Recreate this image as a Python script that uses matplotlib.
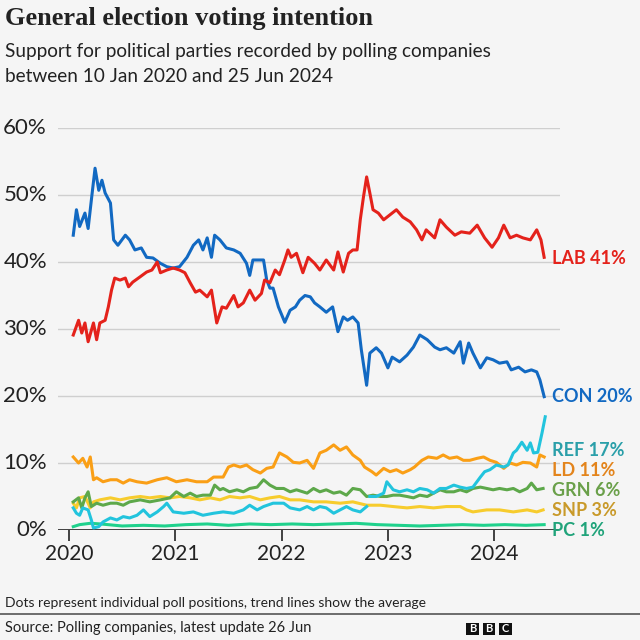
import matplotlib
matplotlib.use("Agg")
import matplotlib.pyplot as plt
from matplotlib.patches import Rectangle
import numpy as np

# ---------------- data (decimal years, % support) ----------------
con_t = [2020.04, 2020.07, 2020.10, 2020.15, 2020.18, 2020.21, 2020.245, 2020.28, 2020.31, 2020.34,
         2020.39, 2020.42, 2020.46, 2020.53, 2020.57, 2020.62, 2020.68, 2020.73, 2020.79, 2020.86,
         2020.92, 2020.98, 2021.04, 2021.11, 2021.17, 2021.22, 2021.26, 2021.30, 2021.34, 2021.37,
         2021.42, 2021.48, 2021.55, 2021.61, 2021.67, 2021.70, 2021.73, 2021.78, 2021.83, 2021.86,
         2021.89, 2021.92, 2021.97, 2022.03, 2022.08, 2022.13, 2022.17, 2022.22, 2022.27, 2022.31,
         2022.36, 2022.42, 2022.48, 2022.53, 2022.58, 2022.62, 2022.67, 2022.72, 2022.75, 2022.80,
         2022.83, 2022.89, 2022.94, 2023.00, 2023.04, 2023.11, 2023.18, 2023.24, 2023.30, 2023.37,
         2023.44, 2023.49, 2023.55, 2023.62, 2023.68, 2023.71, 2023.76, 2023.80, 2023.87, 2023.93,
         2023.99, 2024.05, 2024.12, 2024.16, 2024.23, 2024.29, 2024.35, 2024.40, 2024.43, 2024.47]
con_v = [44.0, 47.8, 45.3, 47.3, 45.0, 49.2, 54.0, 50.7, 52.2, 50.3,
         48.8, 43.3, 42.5, 44.0, 43.3, 41.8, 42.1, 40.7, 40.6, 39.8,
         39.3, 39.1, 39.3, 40.7, 42.5, 43.3, 41.8, 43.6, 40.7, 44.0,
         43.3, 42.1, 41.8, 41.3, 39.8, 38.0, 40.3, 40.3, 40.3, 37.3,
         36.1, 36.1, 33.3, 31.0, 32.8, 33.3, 34.3, 35.0, 34.8, 33.9,
         33.3, 32.5, 33.3, 29.6, 31.8, 31.3, 31.8, 30.9, 26.9, 21.6,
         26.4, 27.2, 26.4, 24.2, 25.8, 25.1, 26.1, 27.3, 29.1, 28.4,
         27.3, 26.9, 27.2, 26.4, 28.1, 24.9, 27.9, 26.4, 24.2, 25.7,
         25.4, 24.9, 25.1, 23.9, 24.3, 23.6, 23.9, 23.6, 22.4, 19.9]

lab_t = [2020.04, 2020.09, 2020.12, 2020.15, 2020.18, 2020.23, 2020.26, 2020.29, 2020.34, 2020.37,
         2020.40, 2020.43, 2020.48, 2020.53, 2020.56, 2020.60, 2020.67, 2020.73, 2020.78, 2020.83,
         2020.86, 2020.92, 2020.98, 2021.04, 2021.09, 2021.14, 2021.19, 2021.23, 2021.30, 2021.34,
         2021.39, 2021.44, 2021.48, 2021.55, 2021.59, 2021.64, 2021.70, 2021.75, 2021.81, 2021.84,
         2021.89, 2021.94, 2021.98, 2022.03, 2022.06, 2022.09, 2022.14, 2022.20, 2022.25, 2022.31,
         2022.36, 2022.42, 2022.49, 2022.53, 2022.58, 2022.63, 2022.67, 2022.71, 2022.74, 2022.77,
         2022.80, 2022.83, 2022.86, 2022.91, 2022.96, 2023.00, 2023.08, 2023.14, 2023.21, 2023.27,
         2023.32, 2023.36, 2023.44, 2023.49, 2023.55, 2023.63, 2023.69, 2023.77, 2023.84, 2023.91,
         2023.98, 2024.04, 2024.09, 2024.15, 2024.21, 2024.27, 2024.34, 2024.40, 2024.44, 2024.47]
lab_v = [29.1, 31.3, 29.4, 30.9, 28.1, 30.9, 28.4, 30.9, 31.3, 33.3,
         35.8, 37.6, 37.3, 37.6, 36.3, 37.0, 37.8, 38.5, 38.8, 40.0,
         38.4, 38.8, 39.1, 38.8, 38.4, 36.9, 35.5, 35.8, 34.8, 35.8,
         30.9, 33.3, 33.1, 35.0, 33.3, 33.9, 35.8, 34.3, 35.3, 37.3,
         36.9, 38.8, 38.1, 40.3, 41.8, 40.7, 41.3, 38.4, 40.7, 39.8,
         38.8, 40.3, 38.8, 41.5, 38.5, 41.3, 41.8, 41.8, 46.3, 49.7,
         52.7, 50.3, 47.8, 47.3, 46.3, 46.8, 47.8, 46.7, 46.0, 44.8,
         43.3, 44.8, 43.6, 46.3, 45.2, 44.0, 44.5, 44.3, 45.5, 43.6,
         42.2, 43.6, 45.5, 43.6, 44.0, 43.6, 43.3, 44.8, 43.3, 40.7]

ld_t = [2020.04, 2020.09, 2020.13, 2020.17, 2020.20, 2020.23, 2020.26, 2020.32, 2020.39, 2020.45,
        2020.51, 2020.57, 2020.64, 2020.73, 2020.83, 2020.92, 2021.01, 2021.11, 2021.20, 2021.30,
        2021.36, 2021.45, 2021.50, 2021.55, 2021.61, 2021.67, 2021.73, 2021.80, 2021.86, 2021.92,
        2021.98, 2022.05, 2022.11, 2022.17, 2022.24, 2022.30, 2022.36, 2022.42, 2022.49, 2022.55,
        2022.61, 2022.67, 2022.74, 2022.78, 2022.85, 2022.89, 2022.96, 2023.02, 2023.08, 2023.14,
        2023.21, 2023.25, 2023.32, 2023.38, 2023.46, 2023.52, 2023.58, 2023.65, 2023.71, 2023.77,
        2023.84, 2023.90, 2023.96, 2024.02, 2024.09, 2024.15, 2024.21, 2024.27, 2024.34, 2024.40,
        2024.43, 2024.47]
ld_v = [10.9, 10.0, 10.7, 9.4, 10.9, 7.5, 7.8, 7.2, 7.5, 7.5,
        7.0, 7.5, 7.2, 7.0, 7.5, 7.8, 7.2, 7.5, 7.2, 7.2,
        7.9, 7.9, 9.4, 9.7, 9.4, 9.7, 9.0, 8.5, 9.2, 9.4,
        11.5, 10.9, 10.1, 10.0, 10.4, 9.2, 11.5, 11.9, 12.7, 11.9,
        12.4, 11.2, 10.4, 9.4, 8.7, 8.2, 9.2, 8.7, 9.0, 8.5,
        9.0, 9.4, 10.4, 10.9, 10.7, 11.2, 10.7, 10.9, 10.4, 10.4,
        10.7, 10.9, 10.4, 10.1, 9.2, 10.0, 9.7, 10.1, 10.0, 9.4,
        11.2, 10.9]

ref_t = [2020.04, 2020.07, 2020.10, 2020.13, 2020.18, 2020.21, 2020.23, 2020.28, 2020.32, 2020.39,
         2020.45, 2020.51, 2020.57, 2020.64, 2020.70, 2020.76, 2020.83, 2020.89, 2020.92, 2020.98,
         2021.08, 2021.17, 2021.26, 2021.36, 2021.45, 2021.55, 2021.64, 2021.70, 2021.77, 2021.83,
         2021.92, 2022.02, 2022.08, 2022.17, 2022.24, 2022.30, 2022.36, 2022.42, 2022.49, 2022.55,
         2022.61, 2022.67, 2022.74, 2022.80, 2022.815, 2022.83, 2022.89, 2022.96, 2022.99, 2023.05,
         2023.11, 2023.18, 2023.24, 2023.30, 2023.37, 2023.43, 2023.49, 2023.55, 2023.62, 2023.68,
         2023.74, 2023.80, 2023.87, 2023.91, 2023.96, 2024.02, 2024.09, 2024.13, 2024.18, 2024.21,
         2024.26, 2024.31, 2024.34, 2024.37, 2024.41, 2024.45, 2024.48]
ref_v = [3.3, 2.5, 2.2, 3.3, 3.0, 1.5, 0.3, 0.5, 1.2, 1.8,
         1.5, 2.0, 1.8, 2.2, 3.0, 2.0, 2.7, 3.5, 4.0, 2.7,
         2.5, 2.7, 2.2, 2.5, 2.7, 2.5, 3.0, 3.7, 3.0, 3.5,
         4.0, 4.0, 3.3, 3.0, 3.5, 3.0, 3.5, 3.3, 2.5, 3.0,
         3.5, 3.0, 2.7, 3.5, np.nan, 5.0, 5.0, 5.5, 7.2, 6.0,
         5.7, 6.0, 5.7, 6.2, 6.0, 5.5, 6.2, 6.2, 6.7, 6.4,
         6.2, 6.4, 7.9, 8.7, 9.0, 9.7, 9.4, 9.7, 11.5, 11.9,
         13.1, 11.9, 13.0, 11.5, 11.6, 14.5, 16.9]

grn_t = [2020.04, 2020.09, 2020.12, 2020.15, 2020.18, 2020.21, 2020.26, 2020.32, 2020.39, 2020.45,
         2020.51, 2020.57, 2020.67, 2020.76, 2020.86, 2020.95, 2021.01, 2021.08, 2021.14, 2021.20,
         2021.26, 2021.33, 2021.37, 2021.42, 2021.45, 2021.51, 2021.58, 2021.64, 2021.70, 2021.77,
         2021.83, 2021.89, 2021.95, 2022.02, 2022.08, 2022.14, 2022.20, 2022.24, 2022.30, 2022.36,
         2022.42, 2022.49, 2022.55, 2022.61, 2022.67, 2022.74, 2022.80, 2022.86, 2022.93, 2022.99,
         2023.05, 2023.11, 2023.18, 2023.24, 2023.30, 2023.37, 2023.43, 2023.49, 2023.55, 2023.62,
         2023.68, 2023.74, 2023.80, 2023.87, 2023.93, 2023.99, 2024.05, 2024.12, 2024.18, 2024.24,
         2024.31, 2024.35, 2024.40, 2024.46]
grn_v = [4.2, 4.8, 3.3, 4.8, 5.7, 3.5, 4.0, 3.7, 4.0, 4.0,
         3.7, 4.2, 4.5, 4.2, 4.5, 4.8, 5.7, 5.0, 5.5, 5.0,
         5.2, 5.2, 6.7, 6.0, 6.2, 5.7, 6.0, 5.7, 6.2, 6.4,
         7.5, 6.7, 6.2, 6.2, 5.7, 6.0, 5.7, 5.5, 6.2, 5.7,
         6.0, 5.5, 5.7, 5.2, 6.2, 6.0, 5.0, 5.2, 5.0, 5.0,
         5.2, 5.2, 5.0, 4.8, 5.2, 5.0, 5.5, 6.0, 5.7, 5.7,
         6.0, 5.7, 6.2, 6.4, 6.2, 6.0, 6.2, 6.0, 6.2, 5.7,
         6.2, 7.0, 6.0, 6.2]

snp_t = [2020.04, 2020.07, 2020.10, 2020.15, 2020.20, 2020.23, 2020.29, 2020.39, 2020.48, 2020.57,
         2020.67, 2020.76, 2020.86, 2020.95, 2021.04, 2021.14, 2021.23, 2021.33, 2021.42, 2021.51,
         2021.61, 2021.70, 2021.80, 2021.89, 2021.98, 2022.08, 2022.17, 2022.30, 2022.42, 2022.55,
         2022.67, 2022.80, 2022.93, 2023.05, 2023.18, 2023.30, 2023.43, 2023.55, 2023.68, 2023.74,
         2023.80, 2023.93, 2024.05, 2024.18, 2024.31, 2024.40, 2024.46]
snp_v = [4.0, 3.3, 4.8, 5.0, 3.3, 4.2, 4.5, 4.8, 4.5, 4.8,
         5.0, 4.8, 5.0, 4.8, 5.0, 4.8, 4.5, 4.8, 4.5, 5.0,
         4.8, 5.0, 4.5, 4.8, 5.0, 4.5, 4.5, 4.2, 4.2, 4.0,
         4.2, 3.7, 3.7, 3.5, 3.3, 3.5, 3.3, 3.5, 3.5, 3.0,
         2.7, 3.0, 3.0, 2.7, 3.0, 2.7, 3.0]

pc_t = [2020.04, 2020.10, 2020.20, 2020.30, 2020.50, 2020.70, 2020.90, 2021.10, 2021.30, 2021.50,
        2021.70, 2021.90, 2022.10, 2022.30, 2022.50, 2022.70, 2022.90, 2023.10, 2023.30, 2023.50,
        2023.70, 2023.90, 2024.10, 2024.30, 2024.47]
pc_v = [0.5, 0.8, 1.0, 0.9, 0.6, 0.7, 0.6, 0.8, 0.9, 0.7,
        0.9, 0.8, 0.9, 0.8, 0.9, 1.0, 0.8, 0.7, 0.6, 0.7,
        0.8, 0.7, 0.8, 0.7, 0.8]

parties = ["LAB", "CON", "REF", "LD", "GRN", "SNP", "PC"]
latest = [41, 20, 17, 11, 6, 3, 1]
y_ticks = [0, 10, 20, 30, 40, 50, 60]
x_ticks = [2020, 2021, 2022, 2023, 2024]

# ---------------- styling ----------------
BG = "#f5f5f5"
line_col = {"LAB": "#e4221b", "CON": "#1269c2", "REF": "#22c4dd", "LD": "#fa9f16",
            "GRN": "#5da84a", "SNP": "#f7cc2d", "PC": "#1fd18c"}
label_col = {"LAB": "#e4221b", "CON": "#1269c2", "REF": "#2a9fa9", "LD": "#e3841c",
             "GRN": "#6aa04a", "SNP": "#c99a2a", "PC": "#20a37a"}
label_y_px = {"LAB": 258, "CON": 397, "REF": 451, "LD": 471, "GRN": 491, "SNP": 511, "PC": 531}

W = H = 640
fig = plt.figure(figsize=(6.4, 6.4), dpi=100, facecolor=BG)

def fx(px):
    return px / W

def fy(py):
    return 1 - py / H

SANS = ["Lato", "DejaVu Sans"]

# axes geometry in pixels
ax_left, ax_right, ax_top, ax_bot = 58, 560, 128, 530
px_per_year = 106.3
x0_px = 69
xlim = (2020 - (x0_px - ax_left) / px_per_year, 2020 + (ax_right - x0_px) / px_per_year)

ax = fig.add_axes([fx(ax_left), fy(ax_bot), (ax_right - ax_left) / W, (ax_bot - ax_top) / H])
ax.set_facecolor(BG)
ax.set_xlim(*xlim)
ax.set_ylim(0, 60)
for s in ax.spines.values():
    s.set_visible(False)
ax.set_yticks(y_ticks)
ax.set_yticklabels([])
ax.tick_params(axis="y", length=0)
ax.set_xticks(x_ticks)
ax.set_xticklabels([f"{x}" for x in x_ticks], fontsize=15, family=SANS, color="#222222")
ax.tick_params(axis="x", length=8, width=1.2, color="#222222", pad=2)
for yv in y_ticks[1:]:
    ax.axhline(yv, color="#cfcfcf", lw=1.0, zorder=1)
ax.axhline(0, color="#333333", lw=1.3, zorder=5)

for yv in y_ticks:
    fig.text(fx(47), fy(ax_bot - yv * (ax_bot - ax_top) / 60), f"{yv}%", ha="right", va="center",
             fontsize=16, family=SANS, color="#222222")

series = {"LAB": (lab_t, lab_v), "CON": (con_t, con_v), "REF": (ref_t, ref_v), "LD": (ld_t, ld_v),
          "GRN": (grn_t, grn_v), "SNP": (snp_t, snp_v), "PC": (pc_t, pc_v)}
order = ["PC", "SNP", "GRN", "LD", "REF", "CON", "LAB"]
for i, p in enumerate(order):
    t, v = series[p]
    ax.plot(t, v, color=line_col[p], lw=2.2, solid_joinstyle="round", zorder=10 + i, clip_on=False)

for p, val in zip(parties, latest):
    fig.text(fx(552), fy(label_y_px[p]), f"{p} {val}%", ha="left", va="center", fontsize=13,
             fontweight="bold", family=SANS, color=label_col[p])

# titles
fig.text(fx(5), fy(18), "General election voting intention", ha="left", va="center",
         fontsize=19, fontweight="bold", family=["Liberation Serif"], color="#222222")
fig.text(fx(5), fy(52), "Support for political parties recorded by polling companies",
         ha="left", va="center", fontsize=13.7, family=SANS, color="#222222")
fig.text(fx(5), fy(77), "between 10 Jan 2020 and 25 Jun 2024",
         ha="left", va="center", fontsize=13.7, family=SANS, color="#222222")

# footer
fig.text(fx(5), fy(603), "Dots represent individual poll positions, trend lines show the average",
         ha="left", va="center", fontsize=10, family=SANS, color="#222222")
fig.add_artist(plt.Line2D([0, 1], [fy(614), fy(614)], color="#555555", lw=1.2))
fig.text(fx(5), fy(628), "Source: Polling companies, latest update 26 Jun",
         ha="left", va="center", fontsize=10.5, family=SANS, color="#222222")
for i, letter in enumerate("BBC"):
    bx = 466 + i * 16.5
    fig.add_artist(Rectangle((fx(bx), fy(635)), 12.5 / W, 12.5 / H, facecolor="#111111",
                             edgecolor="none", transform=fig.transFigure))
    fig.text(fx(bx + 6.25), fy(628.8), letter, ha="center", va="center", fontsize=8,
             fontweight="bold", family=SANS, color="white")

fig.savefig("out.png", dpi=100, facecolor=BG)
